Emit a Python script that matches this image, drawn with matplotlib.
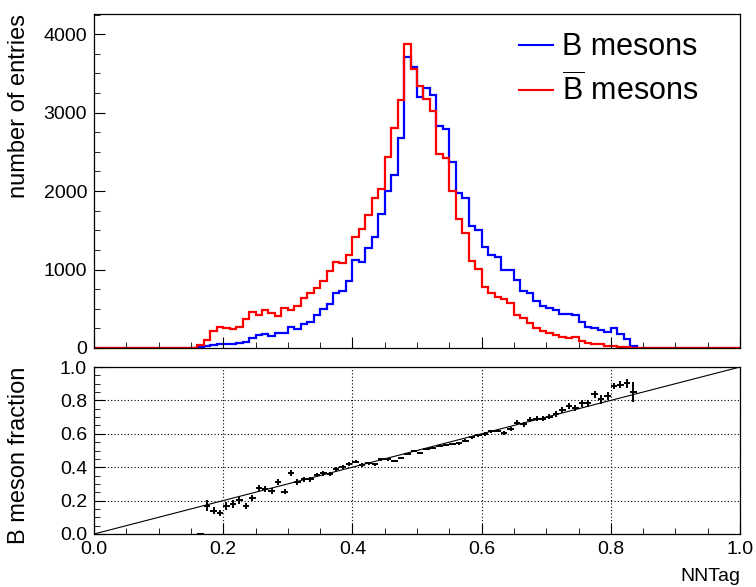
import numpy as np
import matplotlib
matplotlib.use("Agg")
import matplotlib.pyplot as plt
from matplotlib.ticker import MultipleLocator

plt.rcParams['font.family'] = ['Liberation Sans', 'DejaVu Sans']
plt.rcParams['mathtext.fontset'] = 'custom'
plt.rcParams['mathtext.rm'] = 'Liberation Sans'

# NNTag histogram, 100 bins from 0 to 1
bin_edges = np.linspace(0.0, 1.0, 101)

b_counts = [0] * 16 + [
    10, 25, 35, 45, 50, 55, 70, 80, 130, 160,
    175, 155, 190, 190, 265, 245, 305, 335, 415, 500,
    560, 705, 725, 860, 1125, 1100, 1270, 1410, 1705, 2005,
    2200, 2680, 3710, 3580, 3200, 3315, 3220, 2830, 2795, 2370,
    1970, 1910, 1560, 1500, 1285, 1190, 1155, 990, 990, 865,
    730, 705, 605, 535, 515, 485, 432, 430, 425, 330,
    268, 258, 225, 205, 250, 180, 118, 28, 5,
] + [0] * 15

bbar_counts = [0] * 16 + [
    35, 100, 215, 270, 250, 240, 270, 375, 460, 415,
    485, 445, 410, 515, 480, 535, 635, 700, 770, 855,
    985, 1090, 1080, 1180, 1420, 1515, 1700, 1910, 2030, 2430,
    2800, 3155, 3870, 3560, 3345, 3180, 3020, 2470, 2420, 2000,
    1640, 1465, 1110, 1005, 780, 705, 645, 620, 570, 420,
    380, 315, 260, 220, 190, 160, 138, 128, 145, 88,
    65, 50, 45, 30, 20, 14, 8, 5, 3,
] + [2] + [0] * 14

# B meson fraction per bin (bins 16..83)
frac_first_bin = 16
frac = [
    0.0, 0.17, 0.14, 0.124, 0.168, 0.18, 0.204, 0.168, 0.217, 0.274,
    0.268, 0.257, 0.313, 0.253, 0.363, 0.313, 0.327, 0.327, 0.353, 0.363,
    0.361, 0.389, 0.399, 0.419, 0.433, 0.413, 0.423, 0.419, 0.447, 0.447,
    0.437, 0.457, 0.478, 0.496, 0.488, 0.507, 0.513, 0.529, 0.533, 0.539,
    0.543, 0.559, 0.579, 0.591, 0.599, 0.615, 0.619, 0.607, 0.627, 0.667,
    0.657, 0.683, 0.691, 0.691, 0.703, 0.717, 0.743, 0.766, 0.756, 0.782,
    0.782, 0.836, 0.806, 0.826, 0.886, 0.894, 0.902, 0.852,
]
frac_err = [
    0.0, 0.035, 0.022, 0.019, 0.022, 0.022, 0.022, 0.018, 0.017, 0.019,
    0.017, 0.018, 0.019, 0.016, 0.018, 0.017, 0.015, 0.015, 0.014, 0.013,
    0.012, 0.012, 0.012, 0.011, 0.010, 0.010, 0.009, 0.009, 0.008, 0.008,
    0.007, 0.007, 0.006, 0.006, 0.006, 0.006, 0.006, 0.007, 0.007, 0.007,
    0.008, 0.008, 0.009, 0.009, 0.010, 0.010, 0.011, 0.012, 0.012, 0.013,
    0.014, 0.015, 0.016, 0.017, 0.017, 0.018, 0.019, 0.019, 0.019, 0.021,
    0.023, 0.023, 0.025, 0.026, 0.020, 0.022, 0.028, 0.060,
]

W, H = 756, 587
fig = plt.figure(figsize=(W / 100, H / 100), dpi=100)

def px_axes(left, top, right, bottom):
    return fig.add_axes([left / W, 1 - bottom / H, (right - left) / W, (bottom - top) / H])

ax1 = px_axes(94, 14, 740, 348)
ax2 = px_axes(94, 367, 740, 534)

# top: histograms
ax1.stairs(b_counts, bin_edges, color='#0000ff', lw=1.6, label='B mesons')
ax1.stairs(bbar_counts, bin_edges, color='#ff0000', lw=1.6,
           label=r'$\overline{\mathrm{B}}$ mesons')
ax1.set_xlim(0, 1)
ax1.set_ylim(0, 1.1 * max(max(b_counts), max(bbar_counts)))
ax1.xaxis.set_major_locator(MultipleLocator(0.2))
ax1.xaxis.set_minor_locator(MultipleLocator(0.05))
ax1.yaxis.set_major_locator(MultipleLocator(1000))
ax1.yaxis.set_minor_locator(MultipleLocator(250))
ax1.tick_params(axis='x', labelbottom=False)
ax1.set_ylabel('number of entries', fontsize=17, loc='top')
ax1.yaxis.set_label_coords(-0.099, 1.0)
leg = ax1.legend(loc='upper left', bbox_to_anchor=(0.63, 1.0), frameon=False,
                 fontsize=22, handlelength=1.1, handletextpad=0.3,
                 labelspacing=0.35, borderaxespad=0.2)
for line in leg.get_lines():
    line.set_linewidth(1.5)

# bottom: fraction
centers = 0.5 * (bin_edges[:-1] + bin_edges[1:])
fx = centers[frac_first_bin:frac_first_bin + len(frac)]
half_bin = 0.5 * (bin_edges[1] - bin_edges[0])
ax2.plot([0, 1], [0, 1], color='black', lw=0.8)
ax2.errorbar(fx, frac, xerr=half_bin, yerr=frac_err, fmt='none',
             ecolor='black', elinewidth=1.4, capsize=0)
ax2.set_xlim(0, 1)
ax2.set_ylim(0, 1)
ax2.xaxis.set_major_locator(MultipleLocator(0.2))
ax2.xaxis.set_minor_locator(MultipleLocator(0.05))
ax2.yaxis.set_major_locator(MultipleLocator(0.2))
ax2.yaxis.set_minor_locator(MultipleLocator(0.05))
ax2.xaxis.set_major_formatter(plt.FormatStrFormatter('%.1f'))
ax2.yaxis.set_major_formatter(plt.FormatStrFormatter('%.1f'))
ax2.grid(True, which='major', linestyle=(0, (1, 2)), color='black', lw=0.8)
ax2.set_ylabel('B meson fraction', fontsize=17, loc='top')
ax2.yaxis.set_label_coords(-0.099, 1.0)
ax2.set_xlabel('NNTag', fontsize=14, loc='right')
ax2.xaxis.set_label_coords(1.0, -0.205)

for ax in (ax1, ax2):
    ax.tick_params(which='both', direction='in', labelsize=14, pad=5)
    ax.tick_params(which='major', length=8)
    ax.tick_params(which='minor', length=4)
    for s in ax.spines.values():
        s.set_linewidth(0.9)

fig.savefig('out.png', dpi=100)
